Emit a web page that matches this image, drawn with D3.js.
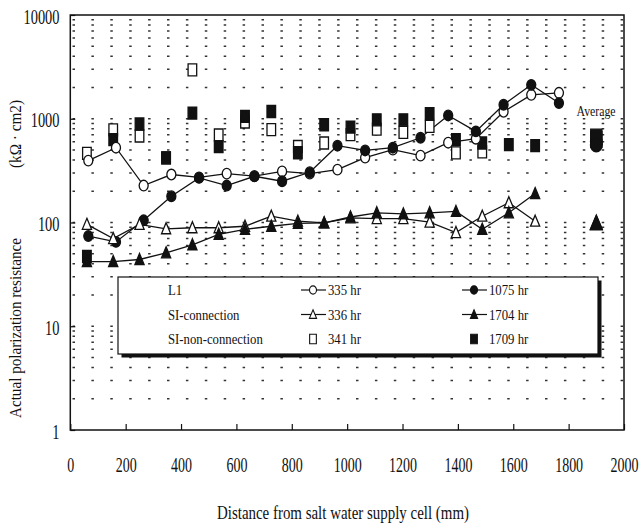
<!DOCTYPE html>
<html>
<head>
<meta charset="utf-8">
<script src="https://cdn.jsdelivr.net/npm/d3@7"></script>
<style>
body { margin: 0; background: #fff; }
text { font-family: "Liberation Serif", "Times New Roman", serif; fill: #111; }
</style>
</head>
<body>
<svg id="chart" width="641" height="528"></svg>
<script>
// distances (mm) of the measuring points
var l1Dist = [65, 165, 265, 365, 465, 565, 665, 765, 865, 965, 1065, 1165, 1265, 1365, 1465, 1565, 1665, 1765];
var siDist = [60, 155, 250, 346, 441, 536, 631, 726, 822, 917, 1012, 1107, 1203, 1298, 1393, 1488, 1584, 1679];

// L1
var l1_335 = [395, 526, 227, 290, 272, 296, 280, 311, 296, 323, 422, 504, 441, 588, 642, 1167, 1700, 1778];
var l1_1075 = [74, 65, 105, 179, 269, 227, 279, 250, 305, 550, 495, 526, 656, 1076, 755, 1364, 2123, 1416];
// SI-connection
var siC_336 = [96, 70, 96, 87, 89, 89, 92, 115, 103, 99, 111, 109, 109, 101, 80, 115, 155, 103];
var siC_1704 = [42, 42, 44, 51, 61, 77, 86, 92, 98, 99, 113, 124, 121, 124, 128, 86, 124, 190];
// SI-non-connection
var siN_341 = [464, 780, 682, 420, 2958, 697, 930, 784, 540, 584, 702, 796, 739, 844, 468, 480];
var siN_1709 = [47, 630, 890, 419, 1135, 538, 1052, 1175, 470, 875, 832, 977, 977, 1117, 629, 584, 562, 550];

// averages plotted at 1900 mm
var avgDist = 1900;
var avgSeries = ["l1_335", "l1_1075", "siC_336", "siC_1704", "siN_341", "siN_1709"];
var avgValues = [600, 558, 98, 99, 630, 667];

var xTicks = [0, 200, 400, 600, 800, 1000, 1200, 1400, 1600, 1800, 2000];
var yTicks = [1, 10, 100, 1000, 10000];

var legendGroups = ["L1", "SI-connection", "SI-non-connection"];
var legendEarly = ["335 hr", "336 hr", "341 hr"];
var legendLate = ["1075 hr", "1704 hr", "1709 hr"];

var pLeft = 70.3, pRight = 624, pTop = 15, pBottom = 430;

var svg = d3.select("#chart");

var x = d3.scaleLinear().domain([0, 2000]).range([pLeft, pRight]);
var y = d3.scaleLog().domain([1, 10000]).range([pBottom, pTop]);

// dotted grid at every 1..9 of each decade
var gridVals = [];
for (var k = 0; k < 4; k++) {
	for (var m = 1; m < 10; m++) {
		var v = m * Math.pow(10, k);
		if (v > 1) gridVals.push(v);
	}
}
svg.append("g").selectAll("line")
	.data(gridVals)
	.enter().append("line")
	.attr("x1", pLeft + 2.2).attr("x2", pRight)
	.attr("y1", function (d) { return y(d); })
	.attr("y2", function (d) { return y(d); })
	.attr("stroke", "#333")
	.attr("stroke-width", 1.4)
	.attr("stroke-dasharray", "2.5,16.4");

// axes
var xAxis = d3.axisBottom(x).tickValues(xTicks).tickSizeInner(-6).tickSizeOuter(0).tickPadding(28)
	.tickFormat(d3.format("d"));
var gx = svg.append("g").attr("transform", "translate(0," + pBottom + ")").call(xAxis);
gx.select(".domain").remove();
gx.selectAll("line").attr("stroke", "#111").attr("stroke-width", 1.2);
gx.selectAll("text")
	.style("font-size", "20px")
	.style("font-family", "'Liberation Serif', serif")
	.attr("fill", "#111")
	.attr("transform", "scale(0.7,1)");

var yAxis = d3.axisLeft(y).tickValues(yTicks).tickSizeInner(-5).tickSizeOuter(0).tickPadding(15)
	.tickFormat(d3.format("d"));
var gy = svg.append("g").attr("transform", "translate(" + pLeft + ",0)").call(yAxis);
gy.select(".domain").remove();
gy.selectAll("line").attr("stroke", "#111").attr("stroke-width", 1.2);
gy.selectAll("text")
	.style("font-size", "20px")
	.style("font-family", "'Liberation Serif', serif")
	.attr("fill", "#111")
	.attr("dy", "0.4em")
	.attr("transform", "scale(0.72,1)");

// frame
svg.append("rect")
	.attr("x", pLeft).attr("y", pTop)
	.attr("width", pRight - pLeft).attr("height", pBottom - pTop)
	.attr("fill", "none").attr("stroke", "#111").attr("stroke-width", 1.5);

// marker shapes
function shape(type, s) {
	if (type == "circle") {
		var rx = 4.5 * s, ry = 5.3 * s;
		return "M" + (-rx) + ",0a" + rx + "," + ry + " 0 1,0 " + (2 * rx) + ",0a" + rx + "," + ry + " 0 1,0 " + (-2 * rx) + ",0Z";
	} else if (type == "square") {
		var w = 4.3 * s, h = 6 * s;
		return "M" + (-w) + "," + (-h) + "H" + w + "V" + h + "H" + (-w) + "Z";
	} else {
		return "M0," + (-6 * s) + "L" + (4.6 * s) + "," + (5 * s) + "L" + (-4.6 * s) + "," + (5 * s) + "Z";
	}
}

var line = d3.line()
	.x(function (d) { return d[0]; })
	.y(function (d) { return d[1]; });

function pts(dist, vals) {
	return vals.map(function (v, i) { return [x(dist[i]), y(v)]; });
}

function drawLine(dist, vals) {
	svg.append("path")
		.attr("d", line(pts(dist, vals)))
		.attr("fill", "none")
		.attr("stroke", "#111")
		.attr("stroke-width", 1.3);
}

function drawMarks(dist, vals, type, filled) {
	svg.append("g").selectAll("path")
		.data(pts(dist, vals))
		.enter().append("path")
		.attr("transform", function (d) { return "translate(" + d[0] + "," + d[1] + ")"; })
		.attr("d", shape(type, 1))
		.attr("fill", filled ? "#111" : "#fff")
		.attr("stroke", "#111")
		.attr("stroke-width", 1.3);
}

drawLine(l1Dist, l1_335);
drawLine(l1Dist, l1_1075);
drawLine(siDist, siC_336);
drawLine(siDist, siC_1704);

drawMarks(siDist, siN_341, "square", false);
drawMarks(siDist, siN_1709, "square", true);
drawMarks(l1Dist, l1_335, "circle", false);
drawMarks(l1Dist, l1_1075, "circle", true);
drawMarks(siDist, siC_336, "triangle", false);
drawMarks(siDist, siC_1704, "triangle", true);

// averages
var avgStyle = {
	l1_335: ["circle", false], l1_1075: ["circle", true],
	siC_336: ["triangle", false], siC_1704: ["triangle", true],
	siN_341: ["square", false], siN_1709: ["square", true]
};
var avgOrder = ["siN_341", "l1_335", "siN_1709", "l1_1075", "siC_336", "siC_1704"];
avgOrder.forEach(function (name) {
	var i = avgSeries.indexOf(name);
	var st = avgStyle[name];
	svg.append("path")
		.attr("transform", "translate(" + x(avgDist) + "," + y(avgValues[i]) + ")")
		.attr("d", shape(st[0], 1.3))
		.attr("fill", st[1] ? "#111" : "#fff")
		.attr("stroke", "#111")
		.attr("stroke-width", 1.3);
});

svg.append("text")
	.attr("x", 596).attr("y", 116)
	.attr("text-anchor", "middle")
	.attr("textLength", 39).attr("lengthAdjust", "spacingAndGlyphs")
	.style("font-size", "14px")
	.text("Average");

// legend
svg.append("rect")
	.attr("x", 121.5).attr("y", 280.5).attr("width", 480).attr("height", 77)
	.attr("fill", "#111");
svg.append("rect")
	.attr("x", 118).attr("y", 277).attr("width", 480).attr("height", 77)
	.attr("fill", "#fff").attr("stroke", "#111").attr("stroke-width", 1.2);

var rowY = [290, 314.5, 339];
var rowShape = ["circle", "triangle", "square"];
var lg = svg.append("g");

function ltext(tx, ty, str) {
	lg.append("text")
		.attr("transform", "translate(" + tx + "," + ty + ") scale(0.85,1)")
		.style("font-size", "15px")
		.text(str);
}

legendGroups.forEach(function (name, i) {
	var cy = rowY[i];
	ltext(168, cy + 5, name);
	[[313, false, legendEarly[i]], [474, true, legendLate[i]]].forEach(function (c) {
		if (rowShape[i] != "square") {
			lg.append("line")
				.attr("x1", c[0] - 12).attr("x2", c[0] + 13)
				.attr("y1", cy).attr("y2", cy)
				.attr("stroke", "#111").attr("stroke-width", 1.2);
		}
		lg.append("path")
			.attr("transform", "translate(" + c[0] + "," + cy + ")")
			.attr("d", shape(rowShape[i], 0.78))
			.attr("fill", c[1] ? "#111" : "#fff")
			.attr("stroke", "#111")
			.attr("stroke-width", 1.1);
		ltext(c[0] + 15, cy + 5, c[2]);
	});
});

// axis titles
svg.append("text")
	.attr("x", 343).attr("y", 519)
	.attr("text-anchor", "middle")
	.attr("textLength", 252).attr("lengthAdjust", "spacingAndGlyphs")
	.style("font-size", "19px")
	.text("Distance from salt water supply cell  (mm)");

svg.append("text")
	.attr("transform", "translate(15,328) rotate(-90)")
	.attr("text-anchor", "middle")
	.attr("dy", "0.35em")
	.attr("textLength", 180).attr("lengthAdjust", "spacingAndGlyphs")
	.style("font-size", "16px")
	.text("Actual polarization resistance");

svg.append("text")
	.attr("transform", "translate(15,134) rotate(-90)")
	.attr("text-anchor", "middle")
	.attr("dy", "0.35em")
	.attr("textLength", 68).attr("lengthAdjust", "spacingAndGlyphs")
	.style("font-size", "16px")
	.text("(kΩ · cm2)");
</script>
</body>
</html>
